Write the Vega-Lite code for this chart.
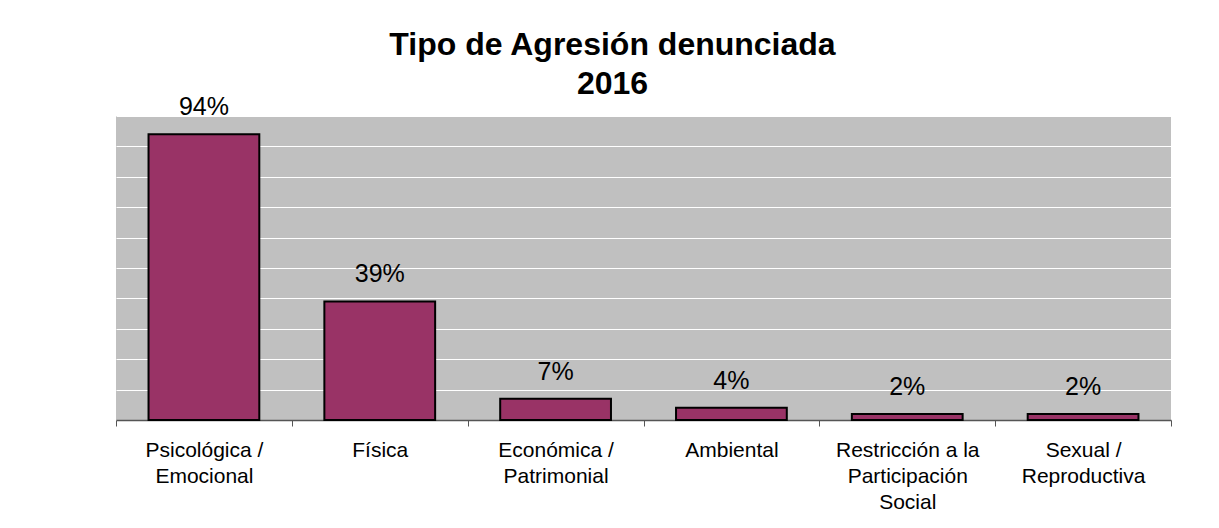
{
  "$schema": "https://vega.github.io/schema/vega-lite/v6.json",
  "width": 1055,
  "height": 304,
  "autosize": {"type": "none"},
  "padding": {"left": 116, "top": 116, "right": 48, "bottom": 108},
  "background": "white",
  "title": {
    "text": ["Tipo de Agresión denunciada", "2016"],
    "font": "Liberation Sans",
    "fontSize": 32,
    "fontWeight": "bold",
    "color": "black",
    "lineHeight": 39,
    "anchor": "middle",
    "dx": -31,
    "offset": -6
  },
  "data": {
    "values": [
      {"tipo": "Psicológica /|Emocional", "pct": 0.94},
      {"tipo": "Física", "pct": 0.39},
      {"tipo": "Económica /|Patrimonial", "pct": 0.07},
      {"tipo": "Ambiental", "pct": 0.04},
      {"tipo": "Restricción a la|Participación|Social", "pct": 0.02},
      {"tipo": "Sexual /|Reproductiva", "pct": 0.02}
    ]
  },
  "config": {
    "view": {"fill": "#C0C0C0", "stroke": null},
    "font": "Liberation Sans"
  },
  "encoding": {
    "x": {
      "field": "tipo",
      "type": "nominal",
      "sort": null,
      "scale": {"paddingInner": 0, "paddingOuter": 0},
      "axis": {
        "title": null,
        "labelAngle": 0,
        "labelExpr": "split(datum.label, '|')",
        "labelFont": "Liberation Sans",
        "labelFontSize": 21,
        "labelLineHeight": 26,
        "labelColor": "black",
        "labelPadding": 13,
        "tickBand": "extent",
        "tickSize": 6,
        "tickColor": "#555555",
        "domainColor": "#555555",
        "domainWidth": 1.5,
        "labelLimit": 300
      }
    },
    "y": {
      "field": "pct",
      "type": "quantitative",
      "scale": {"domain": [0, 1], "nice": false},
      "axis": {
        "title": null,
        "labels": false,
        "ticks": false,
        "domain": false,
        "grid": true,
        "gridColor": "white",
        "gridWidth": 1,
        "values": [0.1, 0.2, 0.3, 0.4, 0.5, 0.6, 0.7, 0.8, 0.9, 1.0]
      }
    }
  },
  "layer": [
    {
      "mark": {"type": "bar", "width": {"band": 0.63}, "fill": "#993366", "stroke": "black", "strokeWidth": 2}
    },
    {
      "mark": {"type": "text", "baseline": "alphabetic", "dy": -19, "fontSize": 25, "color": "black", "font": "Liberation Sans"},
      "encoding": {"text": {"field": "pct", "type": "quantitative", "format": ".0%"}}
    }
  ]
}
